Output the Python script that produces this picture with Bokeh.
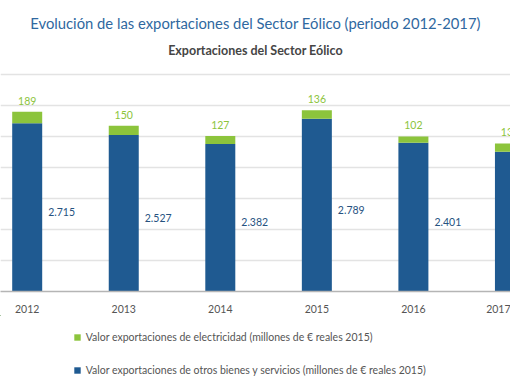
from bokeh.plotting import figure
from bokeh.layouts import column
from bokeh.models import ColumnDataSource, FixedTicker, Legend, LegendItem, Title
from bokeh.core.properties import value
from bokeh.embed import file_html
from bokeh.resources import INLINE

years = ["2012", "2013", "2014", "2015", "2016", "2017"]
otros = [2715, 2527, 2382, 2789, 2401, 2258]
electricidad = [189, 150, 127, 136, 102, 132]
y_ticks = [0, 500, 1000, 1500, 2000, 2500, 3000, 3500]
legend_labels = [
    "Valor exportaciones de electricidad (millones de € reales 2015)",
    "Valor exportaciones de otros bienes y servicios (millones de € reales 2015)",
]

BLUE = "#1f5a91"
GREEN = "#8cc43c"
LABEL_BLUE = "#26527f"
FONT = "Lato"

W = 510
H_TOP, H_LEG = 315, 67
FRAME_TOP, FRAME_BOTTOM = 60, 295
PX_PER_CAT = 96.55
Y_PER_PX = 3500 / 220.5

idx = list(range(len(years)))
total = [o + e for o, e in zip(otros, electricidad)]
fmt = lambda v: f"{v:,}".replace(",", ".")
src = ColumnDataSource(dict(
    x=idx, otros=otros, electricidad=electricidad, total=total,
    otros_lab=[fmt(v) for v in otros], elec_lab=[fmt(v) for v in electricidad],
    otros_mid=[v * 0.47 for v in otros],
))

x0 = -26.7 / PX_PER_CAT
p = figure(width=W, height=H_TOP, output_backend="svg", toolbar_location=None,
           x_range=(x0, x0 + W / PX_PER_CAT),
           y_range=(0, (FRAME_BOTTOM - FRAME_TOP) * Y_PER_PX),
           min_border_left=0, min_border_right=0,
           min_border_top=FRAME_TOP, min_border_bottom=H_TOP - FRAME_BOTTOM)
p.outline_line_color = None

r = p.vbar_stack(["otros", "electricidad"], x="x", width=30 / PX_PER_CAT, source=src,
                 color=[BLUE, GREEN], line_color=None)

p.text(x="x", y="otros_mid", text="otros_lab", source=src, x_offset=21,
       text_align="left", text_baseline="middle", text_color=LABEL_BLUE,
       text_font=value(FONT), text_font_size="10.5px")
p.text(x="x", y="total", text="elec_lab", source=src, y_offset=-7,
       text_align="center", text_baseline="bottom", text_color=GREEN,
       text_font=value(FONT), text_font_size="10.5px")

p.yaxis.visible = False
p.ygrid.ticker = FixedTicker(ticks=y_ticks)
p.ygrid.grid_line_color = "#e3e3e3"
p.ygrid.grid_line_width = 1.5
p.xgrid.visible = False

xa = p.xaxis[0]
xa.ticker = FixedTicker(ticks=idx)
xa.major_label_overrides = {i: y for i, y in zip(idx, years)}
xa.major_tick_line_color = None
xa.minor_tick_line_color = None
xa.axis_line_color = "#b5b5b5"
xa.axis_line_width = 1.5
xa.major_label_text_color = "#555555"
xa.major_label_text_font = FONT
xa.major_label_text_font_size = "10.5px"
xa.major_label_standoff = 7

p.add_layout(Title(text="Exportaciones del Sector Eólico", align="center",
                   text_font=FONT, text_font_size="12.5px", text_font_style="bold",
                   text_color="#454545", standoff=6), "above")
p.add_layout(Title(text="Evolución de las exportaciones del Sector Eólico (periodo 2012-2017)",
                   align="center", text_font=FONT, text_font_size="14.8px",
                   text_font_style="normal", text_color="#2f68a0", standoff=12), "above")

# legend panel below the chart (its helper bars lie outside the visible ranges)
pl = figure(width=W, height=H_LEG, output_backend="svg", toolbar_location=None,
            x_range=(100, 101), y_range=(-101, -100),
            min_border_left=0, min_border_right=0, min_border_top=0, min_border_bottom=0)
pl.axis.visible = False
pl.grid.visible = False
pl.outline_line_color = None
rl = pl.vbar_stack(["otros", "electricidad"], x="x", width=0.3, source=src,
                   color=[BLUE, GREEN], line_color=None)
legend = Legend(items=[
    LegendItem(label=legend_labels[0], renderers=[rl[1]]),
    LegendItem(label=legend_labels[1], renderers=[rl[0]]),
], location=(72.7, 5.7), orientation="vertical", padding=0, margin=0,
    glyph_width=8, glyph_height=8, label_height=12, spacing=21, label_standoff=5,
    label_text_font=FONT, label_text_font_size="10.5px", label_text_color="#555555",
    background_fill_alpha=0, border_line_color=None)
pl.add_layout(legend, "center")

layout = column(p, pl, spacing=0)
open("out.html", "w").write(file_html(layout, INLINE))
